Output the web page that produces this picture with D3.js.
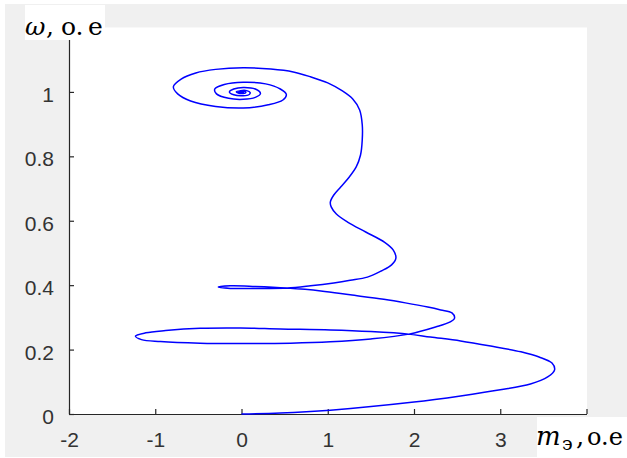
<!DOCTYPE html>
<html><head><meta charset="utf-8">
<script src="https://cdn.jsdelivr.net/npm/d3@7"></script>
<style>body{margin:0;background:#fff;} svg{display:block}</style>
</head><body>
<svg id="c" width="627" height="458"></svg>
<script>
// ---- data ----
const xTicks = [-2, -1, 0, 1, 2, 3, 4];
const yTicks = [0, 0.2, 0.4, 0.6, 0.8, 1, 1.2];
// labels of the last ticks (4 and 1.2) are hidden behind the axis titles in the reference
const xTickLabels = ["-2", "-1", "0", "1", "2", "3", ""];
const yTickLabels = ["0", "0.2", "0.4", "0.6", "0.8", "1", ""];
// trajectory (m_э, ω), in order of travel
const sweep1 = [[0,0],[0.45,0.003],[1.03,0.012],[2.0,0.037],[2.54,0.056],[3.0,0.075],[3.35,0.093],[3.55,0.115],[3.63,0.137]];
const sweep2 = [[3.60,0.158],[3.45,0.177],[3.24,0.193],[2.89,0.211],[2.54,0.227],[2.19,0.239],[1.94,0.248],[1.50,0.256],[1.03,0.261],[0.45,0.264],[-0.01,0.267],[-0.48,0.266],[-0.88,0.259],[-1.11,0.252],[-1.23,0.242]];
const sweep3 = [[-1.16,0.231],[-0.94,0.225],[-0.48,0.220],[-0.01,0.219],[0.57,0.220],[1.03,0.224],[1.50,0.233],[1.94,0.248],[2.25,0.270],[2.42,0.286],[2.47,0.298]];
const sweep4 = [[2.44,0.314],[2.31,0.323],[2.16,0.332],[1.90,0.345],[1.65,0.356],[1.26,0.370],[0.92,0.382],[0.53,0.391],[0.16,0.396],[-0.13,0.398],[-0.27,0.394]];
const sweep5 = [[-0.13,0.390],[0.22,0.390],[0.53,0.391],[0.80,0.398],[1.07,0.407],[1.26,0.415],[1.46,0.425],[1.62,0.444],[1.74,0.463],[1.79,0.484],[1.76,0.509],[1.66,0.533],[1.44,0.565],[1.23,0.596],[1.10,0.621],[1.04,0.643],[1.03,0.658]];
const rise = [[1.07,0.680],[1.15,0.705],[1.25,0.736],[1.33,0.767],[1.38,0.804],[1.40,0.851],[1.40,0.898],[1.37,0.944],[1.29,0.978],[1.17,1.003],[1.00,1.028],[0.80,1.047],[0.60,1.062],[0.34,1.071],[0.02,1.075]];
const spiral = [[-0.30,1.070],[-0.53,1.059],[-0.70,1.040],[-0.79,1.016],[-0.74,0.994],[-0.59,0.972],[-0.30,0.955],[0.02,0.950],[0.31,0.960],[0.48,0.975],[0.52,0.992],[0.45,1.009],[0.28,1.025],[0.02,1.030],[-0.20,1.023],[-0.31,1.009],[-0.29,0.994],[-0.15,0.980],[0.02,0.977],[0.16,0.983],[0.22,0.995],[0.16,1.009],[0.02,1.014],[-0.09,1.009],[-0.14,1.000],[-0.09,0.991],[0.02,0.988],[0.09,0.992],[0.10,0.998],[0.06,1.004],[-0.01,1.004],[-0.06,1.000],[-0.03,0.996],[0.02,0.995],[0.05,0.998],[0.04,1.002],[0.0,1.003],[-0.03,1.000],[-0.01,0.998],[0.02,0.998],[0.02,1.001],[0.0,1.0]];

const trajectory = [].concat(sweep1, sweep2, sweep3, sweep4, sweep5, rise, spiral);

// ---- layout ----
const svg = d3.select("#c");
const padL = 69, padR = 586.5, padT = 27.5, padB = 414;
const x = d3.scaleLinear().domain([-2, 4]).range([padL, padR]);
const y = d3.scaleLinear().domain([0, 1.2]).range([padB, padT]);

svg.append("rect").attr("x", 5).attr("y", 4).attr("width", 622).attr("height", 453).attr("fill", "#f0f0f0");
svg.append("rect").attr("x", padL).attr("y", padT).attr("width", padR - padL + 0.5).attr("height", padB - padT).attr("fill", "#fff");

const tickColor = "#262626";
const fontTick = "'Liberation Sans', Arial, sans-serif";

const xAxis = d3.axisBottom(x).tickValues(xTicks).tickSizeInner(-5).tickSizeOuter(0)
  .tickFormat((d, i) => xTickLabels[i]).tickPadding(22);
const gx = svg.append("g").attr("transform", `translate(0,${padB})`).call(xAxis);
const yAxis = d3.axisLeft(y).tickValues(yTicks).tickSizeInner(-5).tickSizeOuter(0)
  .tickFormat((d, i) => yTickLabels[i]).tickPadding(15);
const gy = svg.append("g").attr("transform", `translate(${padL},0)`).call(yAxis);

[gx, gy].forEach(g => {
  g.select(".domain").attr("stroke", tickColor).attr("stroke-width", 1.2);
  g.selectAll(".tick line").attr("stroke", tickColor).attr("stroke-width", 1.2);
  g.selectAll(".tick text").attr("fill", "#333").style("font-family", fontTick).style("font-size", "21px");
  g.selectAll(".tick text").filter(function () { return this.textContent === ""; }).remove();
});
gy.selectAll(".tick text").attr("dy", "0.45em");
gx.selectAll(".tick text").attr("dy", "0.5em");

// trajectory
const line = d3.line().x(d => x(d[0])).y(d => y(d[1])).curve(d3.curveCatmullRom.alpha(0.5));
svg.append("path").datum(trajectory).attr("d", line)
  .attr("fill", "none").attr("stroke", "#0000ff").attr("stroke-width", 1.5).attr("stroke-linejoin", "round");

// axis labels with white boxes
const serif = "'DejaVu Serif', 'Liberation Serif', serif";
svg.append("rect").attr("x", 25).attr("y", 5).attr("width", 80).attr("height", 35).attr("fill", "#fff");
const yl = svg.append("text").attr("y", 35).style("font-family", serif).style("font-size", "25px").attr("fill", "#000");
yl.append("tspan").attr("x", 25).style("font-style", "italic").text("ω");
yl.append("tspan").attr("x", 46).text(",");
yl.append("tspan").attr("x", 61).text("o.");
yl.append("tspan").attr("x", 88).text("e");

svg.append("rect").attr("x", 537).attr("y", 417).attr("width", 90).attr("height", 41).attr("fill", "#fff");
const xl = svg.append("text").attr("y", 445).style("font-family", serif).style("font-size", "26px").attr("fill", "#000");
xl.append("tspan").attr("x", 536).style("font-style", "italic").text("m");
xl.append("tspan").attr("x", 562).attr("y", 450).style("font-size", "19px").text("э");
xl.append("tspan").attr("x", 576).attr("y", 445).text(",");
xl.append("tspan").attr("x", 587).style("font-size", "24px").text("o.e");
</script>
</body></html>
